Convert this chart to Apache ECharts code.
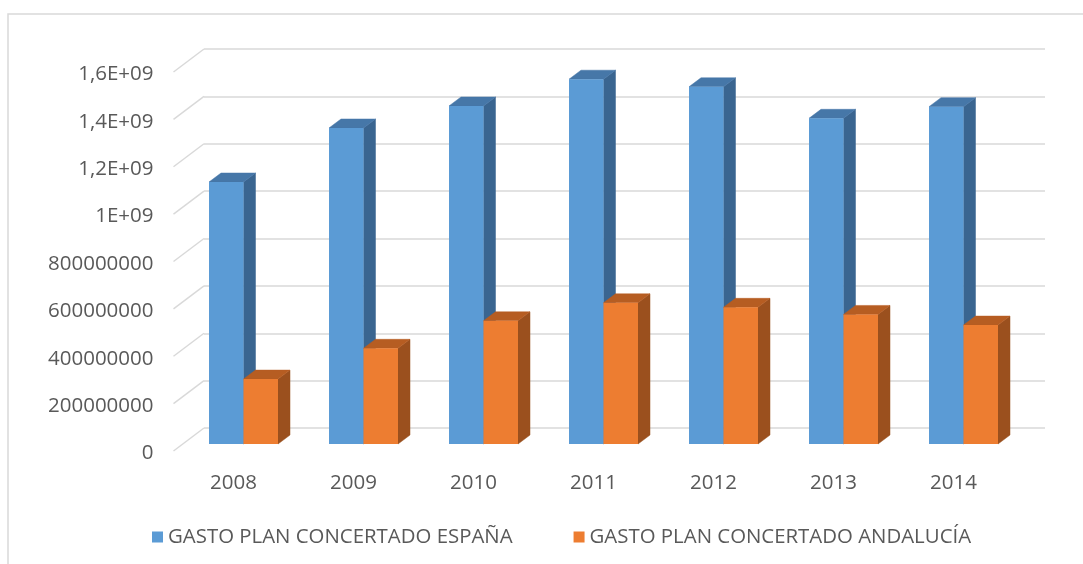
<!DOCTYPE html>
<html>
<head>
<meta charset="utf-8">
<script src="https://cdn.jsdelivr.net/npm/echarts@6/dist/echarts.min.js"></script>
<style>
html,body{margin:0;padding:0;background:#fff;}
#chart{width:1083px;height:564px;}
</style>
</head>
<body>
<div id="chart"></div>
<script>
// ---- data ----
const categories = ['2008', '2009', '2010', '2011', '2012', '2013', '2014'];
const seriesNames = ['GASTO PLAN CONCERTADO ESPAÑA', 'GASTO PLAN CONCERTADO ANDALUCÍA'];
const espana = [1106000000, 1334000000, 1427000000, 1540000000, 1508000000, 1375000000, 1424000000];
const andalucia = [274000000, 404000000, 520000000, 596000000, 577000000, 547000000, 502000000];
const yTickValues = [0, 200000000, 400000000, 600000000, 800000000, 1000000000, 1200000000, 1400000000, 1600000000];
const yTickLabels = ['0', '200000000', '400000000', '600000000', '800000000', '1E+09', '1,2E+09', '1,4E+09', '1,6E+09'];

// ---- styling ----
const FONT = 'Open Sans';
const TEXT = '#595959';
const GRIDC = '#d9d9d9';
const faces = [
  { front: '#5B9BD5', top: '#4677A8', side: '#3A6590' },
  { front: '#ED7D31', top: '#B65D22', side: '#9B501E' }
];
const DEPTH_BAR = [12, -9];     // bar depth offset
const DEPTH_FLOOR = [30.5, -23]; // front edge -> back wall offset

const yMin = yTickValues[0], yMax = yTickValues[yTickValues.length - 1];
const yInt = yTickValues[1] - yTickValues[0];

function bar3d(sIdx) {
  return function (params, api) {
    const i = api.value(0), v = api.value(1);
    const top = api.coord([i, v]);
    const base = api.coord([i, 0]);
    const band = api.size([1, 0])[0];
    const w = band * 0.2875;
    const x0 = top[0] - w + sIdx * w;
    const yt = top[1], yb = base[1];
    const dx = DEPTH_BAR[0], dy = DEPTH_BAR[1];
    const f = faces[sIdx];
    return {
      type: 'group',
      children: [
        { type: 'polygon', shape: { points: [[x0 + w, yt], [x0 + w + dx, yt + dy], [x0 + w + dx, yb + dy], [x0 + w, yb]] },
          style: { fill: f.side, stroke: f.side, lineWidth: 0.5 } },
        { type: 'polygon', shape: { points: [[x0, yt], [x0 + dx, yt + dy], [x0 + w + dx, yt + dy], [x0 + w, yt]] },
          style: { fill: f.top, stroke: f.top, lineWidth: 0.5 } },
        { type: 'rect', shape: { x: x0, y: yt, width: w, height: yb - yt },
          style: { fill: f.front } }
      ]
    };
  };
}

function slant(params, api) {
  const v = api.value(0);
  const c = api.coord([0, v]);
  const band = api.size([1, 0])[0];
  const x = c[0] - band / 2;
  return {
    type: 'line',
    shape: { x1: x, y1: c[1], x2: x + DEPTH_FLOOR[0], y2: c[1] + DEPTH_FLOOR[1] },
    style: { stroke: GRIDC, lineWidth: 1.5 }
  };
}

const chart = echarts.init(document.getElementById('chart'), null, { renderer: 'canvas' });

const valueAxisBase = { type: 'value', min: yMin, max: yMax, interval: yInt };

chart.setOption({
  backgroundColor: '#ffffff',
  animation: false,
  graphic: [{
    type: 'rect', z: -10, silent: true,
    shape: { x: 8, y: 14, width: 1200, height: 700 },
    style: { fill: 'none', stroke: GRIDC, lineWidth: 1.5 }
  }],
  grid: [
    { left: 204, top: 49, width: 841, height: 379, outerBoundsMode: 'none' },   // back wall
    { left: 173.5, top: 72, width: 840, height: 379, outerBoundsMode: 'none' },  // front edge
    { left: 183.5, top: 65, width: 840, height: 379, outerBoundsMode: 'none' },  // bar front faces
    { left: 173.5, top: 74.5, width: 840, height: 379, outerBoundsMode: 'none' } // value labels
  ],
  xAxis: [
    { gridIndex: 0, type: 'category', data: categories, show: false },
    { gridIndex: 1, type: 'category', data: categories,
      axisLine: { show: false }, axisTick: { show: false },
      axisLabel: { color: TEXT, fontFamily: FONT, fontSize: 20.5, margin: 22, overflow: 'none' } },
    { gridIndex: 2, type: 'category', data: categories, show: false },
    { gridIndex: 3, type: 'category', data: categories, show: false }
  ],
  yAxis: [
    Object.assign({ gridIndex: 0, axisLabel: { show: false }, axisLine: { show: false }, axisTick: { show: false },
      splitLine: { show: true, lineStyle: { color: GRIDC, width: 1.5 } } }, valueAxisBase),
    Object.assign({ gridIndex: 1, show: false }, valueAxisBase),
    Object.assign({ gridIndex: 2, show: false }, valueAxisBase),
    Object.assign({ gridIndex: 3, axisLine: { show: false }, axisTick: { show: false }, splitLine: { show: false },
      axisLabel: { color: TEXT, fontFamily: FONT, fontSize: 20.5, margin: 20, overflow: 'none', width: 200,
        formatter: function (val) { const k = yTickValues.indexOf(val); return k >= 0 ? yTickLabels[k] : ''; } } }, valueAxisBase)
  ],
  legend: {
    data: seriesNames,
    left: 147, top: 522,
    icon: 'rect', itemWidth: 11, itemHeight: 11, itemGap: 61,
    textStyle: { color: TEXT, fontFamily: FONT, fontSize: 20.4, padding: [0, 0, 0, 0] }
  },
  series: [
    { type: 'custom', name: '_slant', xAxisIndex: 1, yAxisIndex: 1, renderItem: slant,
      data: yTickValues.map(v => [v]), encode: { y: 0 }, silent: true, z: 1 },
    { type: 'custom', name: seriesNames[0], xAxisIndex: 2, yAxisIndex: 2, renderItem: bar3d(0),
      color: faces[0].front, itemStyle: { color: faces[0].front },
      data: espana.map((v, i) => [i, v]), encode: { x: 0, y: 1 }, z: 3 },
    { type: 'custom', name: seriesNames[1], xAxisIndex: 2, yAxisIndex: 2, renderItem: bar3d(1),
      color: faces[1].front, itemStyle: { color: faces[1].front },
      data: andalucia.map((v, i) => [i, v]), encode: { x: 0, y: 1 }, z: 4 }
  ]
});
</script>
</body>
</html>
